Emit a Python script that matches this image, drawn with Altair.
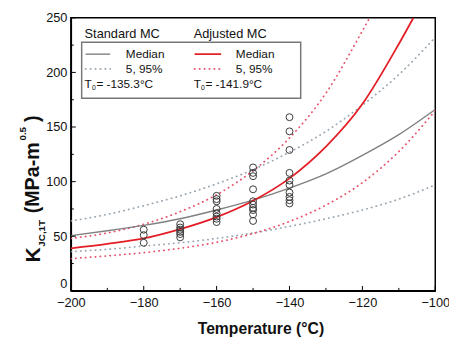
import altair as alt
import pandas as pd

# ---------------- data ----------------
temps = [-200, -190, -180, -170, -160, -150, -140, -130, -120, -110, -100]
std_median = [50.5, 55, 60, 66, 74, 83, 94, 107, 124, 143, 166]
std_p05 = [36, 38, 41, 44, 48, 53, 59, 66, 74, 84, 97]
std_p95 = [64, 70, 78, 87, 98, 111, 127, 146, 170, 198, 232]

adj_median_t = [-200, -190, -180, -170, -160, -150, -140, -130, -120, -110, -106]
adj_median = [39, 43, 48, 56.5, 67.5, 82.5, 103, 132, 171, 226, 250]
adj_p05 = [29.5, 32, 35, 39, 44.5, 52.5, 63.5, 78.5, 99, 127.5, 165]
adj_p95_t = [-200, -190, -180, -170, -160, -150, -140, -130, -120, -118]
adj_p95 = [48, 53, 61, 72.5, 88, 110, 140, 181, 238, 250]

pt_t = ([-180] * 3 + [-170] * 6 + [-160] * 8 + [-150] * 10 + [-140] * 10)
pt_k = [56, 51, 44,
        61, 58, 56, 54, 52, 49,
        87, 84, 82, 75, 71, 68, 66, 63,
        113, 108, 105, 93, 82, 79, 76, 74, 70, 64,
        159, 146, 129, 108, 101, 97, 90, 86, 83, 80]

x_major = [-200, -180, -160, -140, -120, -100]
x_minor = [-190, -170, -150, -130, -110]
y_major = [0, 50, 100, 150, 200, 250]
y_minor = [25, 75, 125, 175, 225]

W, H = 371, 278
FONT = "Liberation Sans"
xs = alt.Scale(domain=[-200, -100], nice=False, zero=False)
ys = alt.Scale(domain=[0, 250], nice=False, zero=False)

X_AXIS = alt.Axis(
    values=x_major, title="Temperature (°C)", ticks=False, grid=False,
    labelFont=FONT, labelFontSize=13, labelColor="#111", labelPadding=6,
    titleFont=FONT, titleFontSize=16, titleFontWeight="bold", titleColor="#111",
    titlePadding=11, titleX=193, domainColor="black", domainWidth=1.5, labelFlush=False)
Y_AXIS = alt.Axis(
    values=y_major, title=None, ticks=False, grid=False,
    labelFont=FONT, labelFontSize=13, labelColor="#111", labelPadding=4,
    labelBaseline={"condition": {"test": "datum.value === 0", "value": "bottom"}, "value": "middle"},
    domainColor="black", domainWidth=1.5, labelFlush=False)

GRAY = "#808080"
GRAY_DOT = "#9aa6b0"
RED = "#e41e26"
RED_DOT = "#e8506a"
DOT = [0.3, 4.7]


def line_layer(t, k, color, width, dash=None):
    df = pd.DataFrame({"t": t, "k": k})
    kw = dict(color=color, strokeWidth=width, interpolate="monotone", clip=True)
    if dash:
        kw["strokeDash"] = dash
        kw["strokeCap"] = "round"
    return alt.Chart(df).mark_line(**kw).encode(
        x=alt.X("t:Q", scale=xs, axis=X_AXIS),
        y=alt.Y("k:Q", scale=ys, axis=Y_AXIS),
    )


def txt(s, x, y, size=12, weight="normal", angle=0, align="left", color="#111"):
    return alt.Chart(pd.DataFrame({"a": [0]})).mark_text(
        text=s, font=FONT, fontSize=size, fontWeight=weight, angle=angle,
        align=align, baseline="middle", color=color,
    ).encode(x=alt.value(x), y=alt.value(y))


points = alt.Chart(pd.DataFrame({"t": pt_t, "k": pt_k})).mark_point(
    shape="circle", filled=False, size=50, color="#3a3a3a", strokeWidth=1, opacity=1
).encode(
    x=alt.X("t:Q", scale=xs, axis=X_AXIS),
    y=alt.Y("k:Q", scale=ys, axis=Y_AXIS),
)

layers = [
    line_layer(temps, std_p95, GRAY_DOT, 1.8, DOT),
    line_layer(temps, std_p05, GRAY_DOT, 1.8, DOT),
    line_layer(adj_p95_t, adj_p95, RED_DOT, 1.8, DOT),
    line_layer(temps, adj_p05, RED_DOT, 1.8, DOT),
    line_layer(temps, std_median, GRAY, 1.4),
    line_layer(adj_median_t, adj_median, RED, 1.8),
    points,
]

# inward ticks
for vals, ln in ((x_major, 5), (x_minor, 3)):
    layers.append(alt.Chart(pd.DataFrame({"t": vals})).mark_rule(color="black", strokeWidth=1).encode(
        x=alt.X("t:Q", scale=xs, axis=X_AXIS), y=alt.value(H), y2=alt.value(H - ln)))
for vals, ln in ((y_major, 5), (y_minor, 3)):
    layers.append(alt.Chart(pd.DataFrame({"k": vals})).mark_rule(color="black", strokeWidth=1).encode(
        y=alt.Y("k:Q", scale=ys, axis=Y_AXIS), x=alt.value(0), x2=alt.value(ln)))

# legend
layers.append(alt.Chart(pd.DataFrame({"a": [0]})).mark_rect(
    fill="white", stroke="#777", strokeWidth=1.5).encode(
    x=alt.value(11), x2=alt.value(234), y=alt.value(25), y2=alt.value(82)))
layers += [
    txt("Standard MC", 14, 17, 13),
    txt("Adjusted MC", 125, 17, 13),
    alt.Chart(pd.DataFrame({"a": [0]})).mark_rule(color=GRAY, strokeWidth=1.4).encode(
        x=alt.value(15), x2=alt.value(40), y=alt.value(37)),
    alt.Chart(pd.DataFrame({"a": [0]})).mark_rule(color=GRAY_DOT, strokeWidth=1.8, strokeDash=DOT, strokeCap="round").encode(
        x=alt.value(15), x2=alt.value(40), y=alt.value(52)),
    alt.Chart(pd.DataFrame({"a": [0]})).mark_rule(color=RED, strokeWidth=1.8).encode(
        x=alt.value(126), x2=alt.value(153), y=alt.value(37)),
    alt.Chart(pd.DataFrame({"a": [0]})).mark_rule(color=RED_DOT, strokeWidth=1.8, strokeDash=DOT, strokeCap="round").encode(
        x=alt.value(126), x2=alt.value(153), y=alt.value(52)),
    txt("Median", 56, 37, 12),
    txt("5, 95%", 56, 52, 12),
    txt("Median", 168, 37, 12),
    txt("5, 95%", 168, 52, 12),
    txt("T", 14, 67, 12),
    txt("0", 21.5, 72, 7),
    txt("= -135.3°C", 26, 67, 12),
    txt("T", 125, 67, 12),
    txt("0", 132.5, 72, 7),
    txt("= -141.9°C", 137, 67, 12),
]

# y axis title built from pieces (sub/superscripts)
layers += [
    txt("K", -37, 249, 21, "bold", 270),
    txt("JC,1T", -29, 233, 10, "bold", 270),
    txt("(MPa-m", -38, 199, 20, "bold", 270),
    txt("0.5", -49, 125, 10, "bold", 270),
    txt(")", -38, 106, 20, "bold", 270),
]

chart = alt.layer(*layers).properties(
    width=W, height=H,
    autosize=alt.AutoSizeParams(type="none"),
    padding={"left": 64, "top": 7, "right": 14, "bottom": 44},
).configure_view(stroke="black", strokeWidth=1.5)

chart.save("out.html", embed_options={"renderer": "svg", "actions": False})
